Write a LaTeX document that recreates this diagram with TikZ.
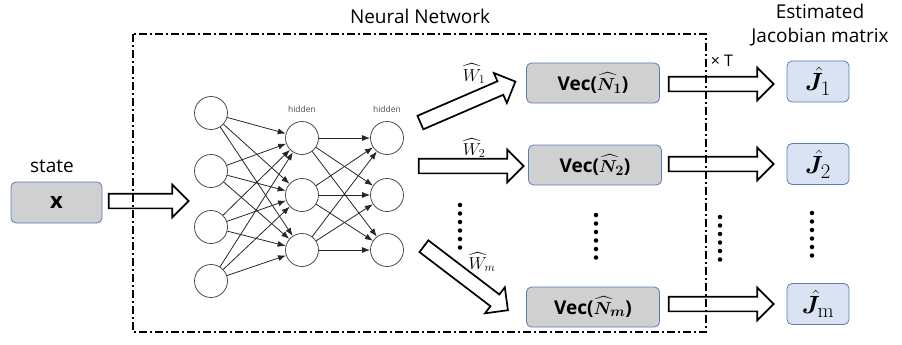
\documentclass[tikz,border=0pt]{standalone}
\usepackage{amsmath,bm}
\usepackage[no-math]{fontspec}
\setmainfont{Open Sans}
\usetikzlibrary{shapes.arrows,calc,arrows.meta}
\definecolor{boxline}{HTML}{5A7DBA}
\definecolor{vecfill}{HTML}{D0D0D0}
\definecolor{jfill}{HTML}{DAE3F3}
\newcommand{\fatarrow}[2]{%
  \path let \p1=($(#2)-(#1)$), \n1={veclen(\x1,\y1)} in
    (#1) -- node[blockarr, sloped, minimum height=\n1] {} (#2);}
\begin{document}
\begin{tikzpicture}[x=1pt, y=-1pt,
  neuron/.style={circle, draw=black!70, line width=0.8pt, minimum size=33pt, inner sep=0pt},
  link/.style={draw=black!85, line width=0.8pt, -{Latex[length=8pt,width=6pt]}},
  blockarr/.style={single arrow, draw, fill=white, line width=1.7pt, inner xsep=0pt, inner ysep=6.5pt,
    minimum width=32pt, single arrow head extend=9pt, single arrow tip angle=90},
  vecbox/.style={draw=boxline, fill=vecfill, line width=0.8pt, rounded corners=5pt,
    minimum width=133pt, minimum height=40pt, font=\fontsize{19}{22}\selectfont\bfseries\boldmath},
  jbox/.style={draw=boxline, fill=jfill, line width=0.8pt, rounded corners=5pt,
    minimum width=62pt, minimum height=41pt, font=\fontsize{29}{30}\selectfont},
  lbl/.style={font=\fontsize{19}{24}\selectfont},
  wlbl/.style={font=\fontsize{17}{18}\selectfont},
  dotcol/.style={line width=4.5pt, line cap=round, dash pattern=on 0pt off 8.5pt},
  frame/.style={line width=1.5pt, dash pattern=on 8pt off 3pt on 2pt off 3pt}]
\useasboundingbox (0,0) rectangle (902,345);
% input
\node[lbl] (S) at (52,166) {state};
\node[draw=boxline, fill=vecfill, line width=0.8pt, rounded corners=5pt, minimum width=91pt,
  minimum height=41pt, font=\fontsize{22}{22}\selectfont\bfseries] (X) at (56.5,202.5) {x};
\coordinate (A_0) at (105,201);
\coordinate (A_1) at (185,201);
\fatarrow{A_0}{A_1}
% network
\node[neuron] (L_0_1) at (211,113) {};
\node[neuron] (L_0_2) at (211,171) {};
\node[neuron] (L_0_3) at (211,227) {};
\node[neuron] (L_0_4) at (211,281) {};
\node[neuron] (L_1_1) at (302,138) {};
\node[neuron] (L_1_2) at (302,195) {};
\node[neuron] (L_1_3) at (302,250) {};
\node[neuron] (L_2_1) at (387,138) {};
\node[neuron] (L_2_2) at (387,195) {};
\node[neuron] (L_2_3) at (387,250) {};
\node[font=\fontsize{8.5}{9}\selectfont, text=black!70] (H_1) at (302,109) {hidden};
\node[font=\fontsize{8.5}{9}\selectfont, text=black!70] (H_2) at (387,109) {hidden};
\draw[link] (L_0_1) -- (L_1_1);
\draw[link] (L_0_1) -- (L_1_2);
\draw[link] (L_0_1) -- (L_1_3);
\draw[link] (L_0_2) -- (L_1_1);
\draw[link] (L_0_2) -- (L_1_2);
\draw[link] (L_0_2) -- (L_1_3);
\draw[link] (L_0_3) -- (L_1_1);
\draw[link] (L_0_3) -- (L_1_2);
\draw[link] (L_0_3) -- (L_1_3);
\draw[link] (L_0_4) -- (L_1_1);
\draw[link] (L_0_4) -- (L_1_2);
\draw[link] (L_0_4) -- (L_1_3);
\draw[link] (L_1_1) -- (L_2_1);
\draw[link] (L_1_1) -- (L_2_2);
\draw[link] (L_1_1) -- (L_2_3);
\draw[link] (L_1_2) -- (L_2_1);
\draw[link] (L_1_2) -- (L_2_2);
\draw[link] (L_1_2) -- (L_2_3);
\draw[link] (L_1_3) -- (L_2_1);
\draw[link] (L_1_3) -- (L_2_2);
\draw[link] (L_1_3) -- (L_2_3);
% weights
\coordinate (W_1_0) at (417,124);
\coordinate (W_1_1) at (512,83);
\fatarrow{W_1_0}{W_1_1}
\node[wlbl] (WL_1) at (474,74) {$\widehat{W}_1$};
\coordinate (W_2_0) at (415,166);
\coordinate (W_2_1) at (520,166);
\fatarrow{W_2_0}{W_2_1}
\node[wlbl] (WL_2) at (474,148) {$\widehat{W}_2$};
\coordinate (W_3_0) at (421,244);
\coordinate (W_3_1) at (505,308);
\fatarrow{W_3_0}{W_3_1}
\node[wlbl] (WL_3) at (482,262) {$\widehat{W}_m$};
% vectorised outputs
\node[vecbox] (V_1) at (593,83) {Vec($\widehat{N}_1$)};
\node[vecbox] (V_2) at (595,165) {Vec($\widehat{N}_2$)};
\node[vecbox] (V_3) at (593,307) {Vec($\widehat{N}_m$)};
\node[jbox] (J_1) at (818,81.5) {$\hat{\bm{J}}_1$};
\node[jbox] (J_2) at (818,164) {$\hat{\bm{J}}_2$};
\node[jbox] (J_3) at (818,304) {$\hat{\bm{J}}_{\mathrm{m}}$};
\coordinate (B_1_0) at (665,84);
\coordinate (B_1_1) at (770,84);
\fatarrow{B_1_0}{B_1_1}
\coordinate (B_2_0) at (665,164);
\coordinate (B_2_1) at (770,164);
\fatarrow{B_2_0}{B_2_1}
\coordinate (B_3_0) at (665,304);
\coordinate (B_3_1) at (770,304);
\fatarrow{B_3_0}{B_3_1}
\node[font=\fontsize{16}{18}\selectfont] (T) at (722,61) {× T};
% ellipses
\draw[dotcol] (460,205) -- (460,252);
\draw[dotcol] (596,215) -- (596,262);
\draw[dotcol] (720,217) -- (720,262);
\draw[dotcol] (812,213) -- (812,260);
% titles
\node[lbl] (NN) at (420,16) {Neural Network};
\node[lbl, align=center] (EJ) at (820,25) {Estimated\\Jacobian matrix};
% frame
\draw[frame] (133,34) rectangle (706,332);
\end{tikzpicture}
\end{document}
